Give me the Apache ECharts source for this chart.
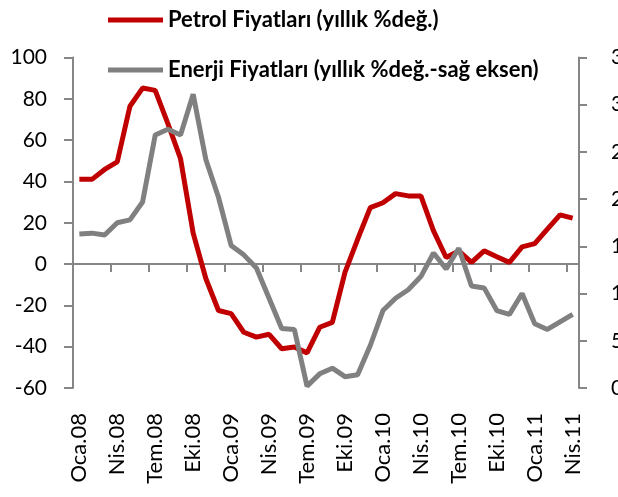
<!DOCTYPE html>
<html>
<head>
<meta charset="utf-8">
<script src="https://cdn.jsdelivr.net/npm/echarts@6/dist/echarts.min.js"></script>
<style>
  html, body { margin: 0; padding: 0; background: #fff; }
  #chart { width: 618px; height: 497px; }
</style>
</head>
<body>
<div id="chart"></div>
<script>
// aylar: Oca.08 - Nis.11
var months = ['Oca.08','Şub.08','Mar.08','Nis.08','May.08','Haz.08','Tem.08','Ağu.08','Eyl.08','Eki.08','Kas.08','Ara.08',
              'Oca.09','Şub.09','Mar.09','Nis.09','May.09','Haz.09','Tem.09','Ağu.09','Eyl.09','Eki.09','Kas.09','Ara.09',
              'Oca.10','Şub.10','Mar.10','Nis.10','May.10','Haz.10','Tem.10','Ağu.10','Eyl.10','Eki.10','Kas.10','Ara.10',
              'Oca.11','Şub.11','Mar.11','Nis.11'];
var petrol = [41, 41, 45.8, 49.5, 76.4, 85.2, 84.1, 68, 51, 15, -7, -22.5,
              -24, -33, -35.4, -34, -41, -40.2, -43, -30.6, -28.2, -4, 12, 27.3,
              29.7, 34.1, 33, 33, 16.1, 3.2, 6.4, 0.8, 6.4, 3.5, 0.8, 8.3,
              9.9, 16.9, 23.8, 22.2];
var enerji = [16.3, 16.4, 16.2, 17.5, 17.8, 19.7, 26.8, 27.4, 26.8, 31.1, 24.2, 20.2,
              15.1, 14.1, 12.7, 9.5, 6.3, 6.2, 0.2, 1.5, 2.1, 1.2, 1.4, 4.5,
              8.2, 9.5, 10.4, 11.8, 14.3, 12.6, 14.8, 10.8, 10.6, 8.2, 7.8, 10,
              6.8, 6.2, 7, 7.8];
var petrolName = 'Petrol Fiyatları (yıllık %değ.)';
var enerjiName = 'Enerji Fiyatları (yıllık %değ.-sağ eksen)';

var axisColor = '#868686';
var fontFam = 'Lato';

var myChart = echarts.init(document.getElementById('chart'));
var option = {
  animation: false,
  grid: { left: 73, right: 39, top: 57.5, bottom: 109, outerBoundsMode: 'none' },
  legend: [
    {
      data: [{ name: petrolName, icon: 'rect' }],
      left: 103, top: 3,
      itemWidth: 55, itemHeight: 5,
      textStyle: { fontFamily: fontFam, fontWeight: 'bold', fontSize: 22, color: '#000', lineHeight: 24 }
    },
    {
      data: [{ name: enerjiName, icon: 'rect' }],
      left: 103, top: 53,
      itemWidth: 55, itemHeight: 5,
      textStyle: { fontFamily: fontFam, fontWeight: 'bold', fontSize: 22, color: '#000', lineHeight: 24 }
    }
  ],
  xAxis: [
    {
      type: 'category',
      data: months,
      boundaryGap: true,
      axisLine: { onZero: true, onZeroAxisIndex: 0, lineStyle: { color: axisColor, width: 2 } },
      axisTick: { show: true, interval: 2, length: 8, lineStyle: { color: axisColor, width: 2 } },
      axisLabel: { show: false }
    },
    {
      type: 'category',
      data: months,
      boundaryGap: true,
      position: 'bottom',
      axisLine: { show: false, onZero: false },
      axisTick: { show: false },
      axisLabel: { rotate: 90, interval: 2, margin: 25, fontFamily: fontFam, fontSize: 22, color: '#000' }
    }
  ],
  yAxis: [
    {
      type: 'value', min: -60, max: 100, interval: 20, position: 'left',
      axisLine: { show: true, lineStyle: { color: axisColor, width: 2 } },
      axisTick: { show: true, length: 9, lineStyle: { color: axisColor, width: 2 } },
      axisLabel: { margin: 26, fontFamily: fontFam, fontSize: 21, color: '#000' },
      splitLine: { show: false }
    },
    {
      type: 'value', min: 0, max: 35, interval: 5, position: 'right',
      axisLine: { show: true, lineStyle: { color: axisColor, width: 2 } },
      axisTick: { show: true, length: 8, lineStyle: { color: axisColor, width: 2 } },
      axisLabel: { margin: 32, fontFamily: fontFam, fontSize: 21, color: '#000' },
      splitLine: { show: false }
    }
  ],
  series: [
    {
      name: petrolName, type: 'line', data: petrol,
      xAxisIndex: 0, yAxisIndex: 0,
      symbol: 'none',
      lineStyle: { color: '#C00000', width: 5 },
      itemStyle: { color: '#C00000' }
    },
    {
      name: enerjiName, type: 'line', data: enerji,
      xAxisIndex: 0, yAxisIndex: 1,
      symbol: 'none',
      lineStyle: { color: '#808080', width: 5 },
      itemStyle: { color: '#808080' }
    }
  ]
};
myChart.setOption(option);
</script>
</body>
</html>
